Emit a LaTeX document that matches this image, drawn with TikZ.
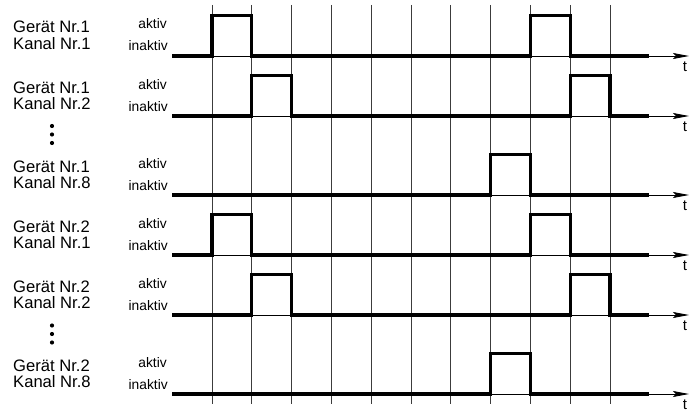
\documentclass[tikz,border=0pt]{standalone}
\usepackage{fontspec}
\setmainfont{Liberation Sans}
\usetikzlibrary{arrows.meta}
\definecolor{grid}{RGB}{60,60,60}
\newcommand{\tick}[1]{212+39.8*#1}
\newcommand{\level}{40.5}

\begin{document}
\begin{tikzpicture}[x=1pt,y=-1pt,
  gridline/.style={grid,line width=.8pt},
  timeaxis/.style={line width=.9pt,-{Stealth[length=16pt,width=6pt,inset=3pt]}},
  signal/.style={line width=3.2pt,line join=miter},
  device/.style={anchor=base west,font=\fontsize{16.6}{18}\selectfont,inner sep=0pt},
  state/.style={anchor=base east,font=\fontsize{13.8}{16}\selectfont,inner sep=0pt},
  tlabel/.style={anchor=base,font=\fontsize{15}{17}\selectfont,inner sep=0pt}]
  \useasboundingbox (0,0) rectangle (699,412);
  \foreach \k in {0,...,10}
    \draw[gridline] ({\tick{\k}},5) -- ({\tick{\k}},404);
  \foreach \y/\pulses/\dev/\ch/\n in {56/{0,8}/1/1/a,116/{1,9}/1/2/b,195/{7}/1/8/c,
                                      255/{0,8}/2/1/d,315/{1,9}/2/2/e,394/{7}/2/8/f}{
    \node[device] (dev\n) at (13,\y-23) {Gerät Nr.\dev};
    \node[device] (ch\n) at (13,\y-6.5) {Kanal Nr.\ch};
    \node[state] (on\n) at (167,\y-27) {aktiv};
    \node[state] (off\n) at (168,\y-5) {inaktiv};
    \coordinate (start\n) at (172,\y);
    \coordinate (end\n) at (689,\y);
    \node[tlabel] (t\n) at (685,\y+15) {t};
    \draw[timeaxis] (start\n) -- (end\n);
    \draw[signal] (start\n)
      \foreach \k in \pulses {
        -- ({\tick{\k}},\y) -- ({\tick{\k}},\y-\level)
        -- ({\tick{(\k+1)}},\y-\level) -- ({\tick{(\k+1)}},\y)}
      -- (649,\y);
  }
  \foreach \y in {126,134.5,143,325.5,334,342.5}
    \fill (52,\y) circle (2.1);
\end{tikzpicture}
\end{document}
